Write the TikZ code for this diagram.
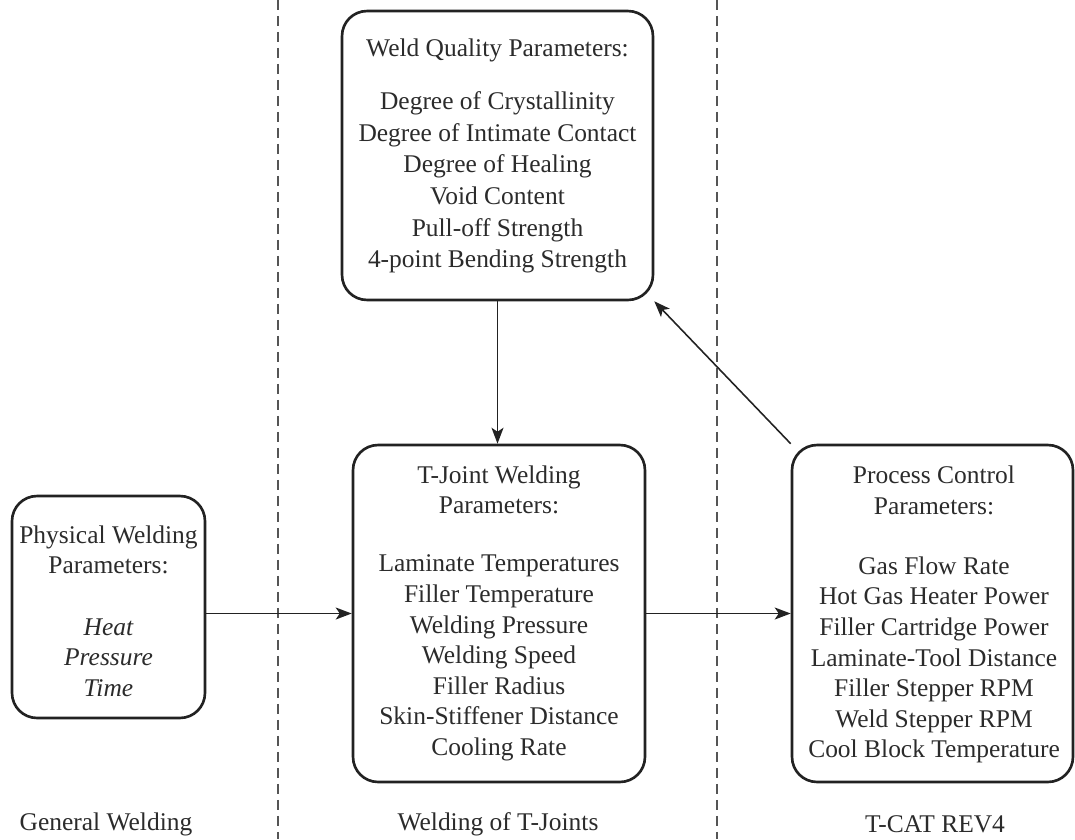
\documentclass[tikz,border=0pt]{standalone}
\usepackage{fontspec}
\setmainfont{Liberation Serif}
\usetikzlibrary{arrows.meta}
\definecolor{ink}{HTML}{222222}
\definecolor{txt}{HTML}{2B2B2B}
\definecolor{sep}{HTML}{555555}
\begin{document}
\begin{tikzpicture}[x=0.02cm,y=-0.02cm,
  panel/.style={draw=ink, line width=1.5pt, rounded corners=0.5cm, inner sep=0pt},
  label/.style={text=txt, align=center, inner sep=0pt,
    font=\fontsize{14.5pt}{17.4pt}\selectfont},
  widelabel/.style={label, font=\fontsize{14.5pt}{18pt}\selectfont},
  flow/.style={draw=ink, line width=0.9pt, -{Stealth[length=0.32cm,width=0.24cm,inset=0.08cm]}},
  divider/.style={draw=sep, line width=0.6pt, dash pattern=on 0.2cm off 0.12cm}]
\useasboundingbox (0,0) rectangle (1075,839);

% column dividers
\coordinate (d1t) at (278,0);
\coordinate (d1b) at (278,839);
\coordinate (d2t) at (717,0);
\coordinate (d2b) at (717,839);
\draw[divider] (d1t) -- (d1b);
\draw[divider] (d2t) -- (d2b);

% parameter boxes
\node[panel, minimum width=6.22cm, minimum height=5.78cm] (wq) at (497.5,155.5) {};
\node[panel, minimum width=3.86cm, minimum height=4.44cm] (pw) at (108.5,607) {};
\node[panel, minimum width=5.84cm, minimum height=6.74cm] (tj) at (499,613.5) {};
\node[panel, minimum width=5.62cm, minimum height=6.74cm] (pc) at (932.5,613.5) {};

% box contents
\node[label] (wqh) at (497.5,50) {Weld Quality Parameters:};
\node[widelabel] (wql) at (497.5,182.5) {Degree of Crystallinity\\Degree of Intimate Contact\\Degree of Healing\\Void Content\\Pull-off Strength\\4-point Bending Strength};

\node[label] (pwh) at (108.5,550) {Physical Welding\\Parameters:};
\node[label, font=\fontsize{14.5pt}{17.4pt}\selectfont\itshape] (pwl) at (108.5,657.5) {Heat\\Pressure\\Time};

\node[label] (tjh) at (499,490) {T-Joint Welding\\Parameters:};
\node[label] (tjl) at (499,658) {Laminate Temperatures\\Filler Temperature\\Welding Pressure\\Welding Speed\\Filler Radius\\Skin-Stiffener Distance\\Cooling Rate};

\node[label] (pch) at (934,490.5) {Process Control\\Parameters:};
\node[label] (pcl) at (934,660) {Gas Flow Rate\\Hot Gas Heater Power\\Filler Cartridge Power\\Laminate-Tool Distance\\Filler Stepper RPM\\Weld Stepper RPM\\Cool Block Temperature};

% column captions
\node[label] (c1) at (106,824) {General Welding};
\node[label] (c2) at (498,824) {Welding of T-Joints};
\node[label] (c3) at (935,824) {T-CAT REV4};

% connectors
\draw[flow] (pw.east |- tj.west) -- (tj.west);
\draw[flow] (tj.east) -- (pc.west);
\draw[flow] (wq.south) -- (wq.south |- tj.north);
\draw[flow] (pc.north west) -- (wq.south east);
\end{tikzpicture}
\end{document}
